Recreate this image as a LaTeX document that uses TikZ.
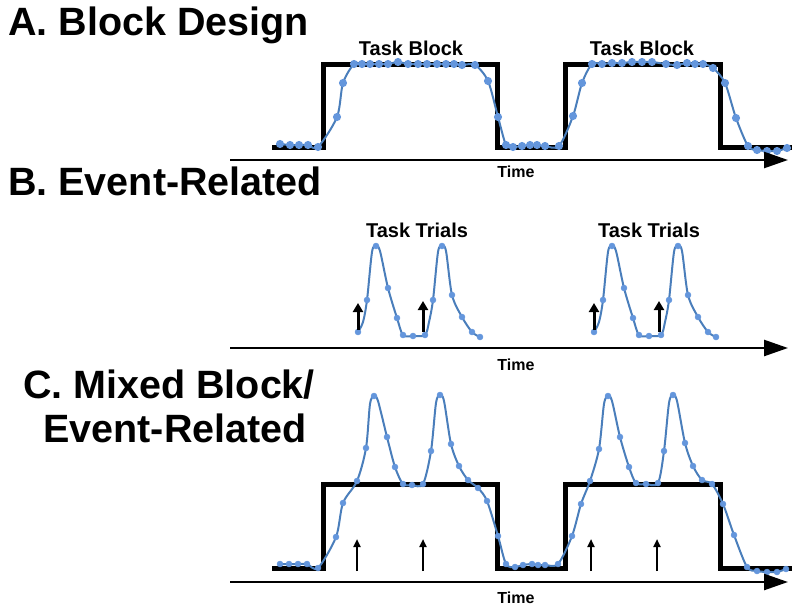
\documentclass[tikz,border=0pt]{standalone}
\usepackage{fontspec}
\setmainfont{Liberation Sans}
\usetikzlibrary{arrows.meta}
\definecolor{sigblue}{RGB}{74,126,187}
\definecolor{dotblue}{RGB}{100,150,220}

\begin{document}
\begin{tikzpicture}[x=1pt,y=-1pt,
    title/.style={anchor=base west,inner sep=0pt,font=\fontsize{39.5}{44}\selectfont\bfseries},
    lbl/.style={font=\fontsize{20}{24}\selectfont\bfseries},
    timelbl/.style={font=\fontsize{16}{19}\selectfont\bfseries},
    axis/.style={line width=2.5pt,-{Triangle[length=24pt,width=16pt]}},
    boxcar/.style={line width=5pt,line join=miter},
    signal/.style={draw=sigblue,line width=2pt},
    timepts/.style={only marks,mark=*,mark size=3pt,mark options={draw=dotblue,fill=dotblue}},
    onset/.style={line width=3pt,-{Triangle[length=9pt,width=10pt]}},
    thinonset/.style={line width=2pt,-{Triangle[length=8pt,width=7pt]}}]
  \useasboundingbox (0,0) rectangle (800,613);

  % A. block design
  \node[title] (titA) at (8,35) {A. Block Design};
  \node[lbl] (blk1) at (411,48) {Task Block};
  \node[lbl] (blk2) at (642,48) {Task Block};
  \draw[boxcar] (272,147) -| (323,64) -| (497,147) -| (565,64) -| (720,147) -- (792,147);
  \draw[signal] plot[smooth,mark=*,mark size=3pt,mark options={draw=dotblue,fill=dotblue}] coordinates {
    (280,144) (290,145) (299,145) (308,145) (318,147) (337,117) (343,83) (354,64)
    (362,64) (370,64) (379,64) (388,64) (398,62) (408,64) (418,64) (427,64) (437,64)
    (446,64) (454,64) (462,65) (475,65) (488,81) (498,117) (506,145) (513,147)
    (522,146) (530,145) (537,145) (545,146) (559,146) (573,116) (582,83) (592,64)
    (602,64) (612,63) (622,63) (632,62) (642,62) (652,62) (666,64) (677,65) (687,63)
    (695,64) (703,64) (713,68) (725,83) (736,118) (748,146) (757,150) (767,151)
    (777,151) (787,148)};
  \coordinate (a0) at (230,160);
  \coordinate (a1) at (788,160);
  \draw[axis] (a0) -- (a1);
  \node[timelbl] (timeA) at (516,172) {Time};

  % B. event-related
  \node[title] (titB) at (8,195) {B. Event-Related};
  \node[lbl] (tr1) at (417,230) {Task Trials};
  \node[lbl] (tr2) at (649,230) {Task Trials};
  \foreach \s in {0,236}{
    \begin{scope}[xshift=\s pt]
      \draw[signal] plot[smooth] coordinates {(358,332) (363,322) (367,300) (372,252)
        (376,246) (380,251) (388,288) (397,318) (403,335) (413,336) (425,335) (429,322)
        (433,300) (438,252) (442,246) (446,251) (452,295) (462,317) (472,332) (480,337)};
      \path plot[timepts] coordinates {(358,332) (367,300) (376,246) (388,288) (397,318)
        (403,335) (413,336) (425,335) (433,300) (442,246) (452,295) (462,317) (472,332) (480,337)};
      \draw[onset] (358,330) -- (358,303);
      \draw[onset] (423,332) -- (423,301);
    \end{scope}
  }
  \coordinate (b0) at (230,348);
  \coordinate (b1) at (788,348);
  \draw[axis] (b0) -- (b1);
  \node[timelbl] (timeB) at (516,365) {Time};

  % C. mixed
  \node[title,anchor=base] (titC) at (169,398) {C. Mixed Block/};
  \node[title,anchor=base] (titC2) at (175,442) {Event-Related};
  \draw[boxcar] (272,568) -| (323,484) -| (497,568) -| (565,484) -| (720,568) -- (792,568);
  \draw[signal] plot[smooth] coordinates {
    (280,564) (289,564) (298,564) (307,564) (318,568) (336,537) (343,503) (357,481)
    (366,448) (370,404) (374,396) (378,401) (387,437) (395,467) (403,484) (412,485)
    (423,484) (431,451) (436,403) (440,395) (444,401) (451,444) (459,466) (468,480)
    (478,488) (487,501) (498,536) (506,564) (515,567) (523,565) (532,564) (538,565)
    (545,565) (558,564) (572,536) (581,504) (590,481) (599,449) (604,404) (608,396)
    (612,401) (620,437) (629,467) (636,483) (646,484) (658,483) (664,451) (669,403)
    (673,395) (677,401) (685,443) (693,466) (702,480) (712,484) (723,504) (734,535)
    (747,567) (757,571) (767,572) (777,572) (786,569)};
  \path plot[timepts] coordinates {
    (280,564) (289,564) (298,564) (307,564) (318,568) (336,537) (343,503) (357,481)
    (366,448) (374,396) (387,437) (395,467) (403,484) (412,485) (423,484) (431,451)
    (440,395) (451,444) (459,466) (468,480) (478,488) (487,501) (498,536) (506,564)
    (515,567) (523,565) (532,564) (538,565) (545,565) (558,564) (572,536) (581,504)
    (590,481) (599,449) (608,396) (620,437) (629,467) (636,483) (646,484) (658,483)
    (664,451) (673,395) (685,443) (693,466) (702,480) (712,484) (723,504) (734,535)
    (747,567) (757,571) (767,572) (777,572) (786,569)};
  \foreach \x in {357,423,591,657}
    \draw[thinonset] (\x,571) -- (\x,539);
  \coordinate (c0) at (230,582);
  \coordinate (c1) at (788,582);
  \draw[axis] (c0) -- (c1);
  \node[timelbl] (timeC) at (516,598) {Time};
\end{tikzpicture}
\end{document}
